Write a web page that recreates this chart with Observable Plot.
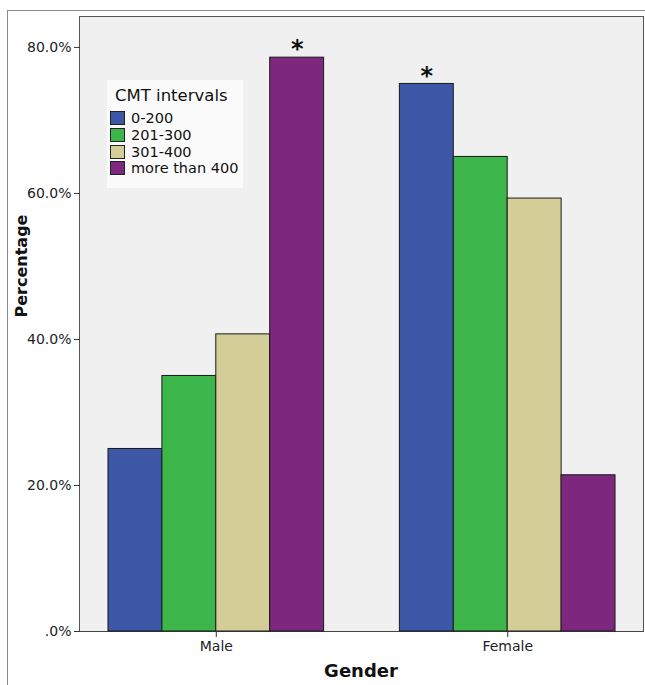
<!DOCTYPE html>
<html>
<head>
<meta charset="utf-8">
<script src="https://cdn.jsdelivr.net/npm/d3@7"></script>
<script src="https://cdn.jsdelivr.net/npm/@observablehq/plot@0.6"></script>
<style>
  html, body { margin: 0; padding: 0; background: #fff; overflow: hidden; }
  #wrap { position: relative; width: 645px; height: 685px; font-family: "DejaVu Sans", sans-serif; }
  #outer { position: absolute; left: 7px; top: 10px; width: 660px; height: 700px; border-left: 1.5px solid #8a8a8a; border-top: 1.5px solid #8a8a8a; }
  #plotbg { position: absolute; left: 79px; top: 16px; width: 565px; height: 616px; background: #f0f0f0; box-sizing: border-box; border: 1.5px solid #555; border-bottom-color: #444; }
  #chart { position: absolute; left: 0; top: 0; }
  #ylab { position: absolute; left: 21px; top: 266px; transform: translate(-50%, -50%) rotate(-90deg); font-weight: bold; font-size: 16px; color: #111; white-space: nowrap; }
  #xlab { position: absolute; left: 361px; top: 670px; transform: translate(-50%, -50%); font-weight: bold; font-size: 18px; color: #111; white-space: nowrap; }
  #legend { position: absolute; left: 107px; top: 80px; width: 136px; height: 108px; background: #fbfbfb; box-sizing: border-box; padding: 6px 0 0 3px; }
  #legend .title { font-size: 16.5px; color: #111; margin: 0 0 5px 5px; }
  #legend .item { display: flex; align-items: center; height: 16.7px; font-size: 14.5px; color: #111; }
  #legend .sw { width: 13px; height: 12px; border: 1px solid #222; margin-right: 6px; }
</style>
</head>
<body>
<div id="wrap">
  <div id="outer"></div>
  <div id="plotbg"></div>
  <div id="chart"></div>
  <div id="ylab">Percentage</div>
  <div id="xlab">Gender</div>
  <div id="legend"></div>
</div>
<script>
// ---- data ----
const genders = ["Male", "Female"];
const intervals = ["0-200", "201-300", "301-400", "more than 400"];
const maleValues = [25.0, 35.0, 40.7, 78.6];
const femaleValues = [75.0, 65.0, 59.3, 21.4];
const starred = [["Male", "more than 400"], ["Female", "0-200"]];
const colors = ["#3d57a7", "#3cb54b", "#d3ce98", "#7e277e"];
const yTicks = [0, 20, 40, 60, 80];

const rows = [];
genders.forEach((g, gi) => {
  const vals = gi === 0 ? maleValues : femaleValues;
  intervals.forEach((iv, k) => rows.push({gender: g, interval: iv, value: vals[k]}));
});
const stars = rows.filter(r => starred.some(([g, iv]) => g === r.gender && iv === r.interval));

const fmt = d => d === 0 ? ".0%" : d.toFixed(1) + "%";

// layout
const W = 645, H = 685, mL = 80, mR = 2, mT = 17, mB = 54;
const pInner = 0.26, pOuter = 0.096;
const step = (W - mL - mR) / (genders.length - pInner + 2 * pOuter);
const axisShift = -pOuter * step; // y axis drawn at the plot frame, not the first facet

const chart = Plot.plot({
  width: W,
  height: H,
  marginLeft: mL,
  marginTop: mT,
  marginRight: mR,
  marginBottom: mB,
  style: {fontFamily: "DejaVu Sans, sans-serif", background: "transparent", color: "#222"},
  fx: {domain: genders, paddingInner: pInner, paddingOuter: pOuter, round: false, label: null},
  x: {domain: intervals, padding: 0, round: false, axis: null},
  y: {domain: [0, 84.1], label: null},
  color: {domain: intervals, range: colors},
  marks: [
    Plot.barY(rows, {fx: "gender", x: "interval", y: "value", fill: "interval", stroke: "#1a1a1a", strokeWidth: 1}),
    Plot.text(stars, {fx: "gender", x: "interval", y: "value", text: () => "*", dy: -8, fontSize: 24, fontWeight: "bold", fill: "#111"}),
    Plot.axisY({ticks: yTicks, tickFormat: fmt, tickSize: 6, tickPadding: 3, fontSize: 14, label: null, stroke: "#333", dx: axisShift}),
    Plot.axisFx({anchor: "bottom", tickSize: 6, tickPadding: 4, fontSize: 14, label: null, stroke: "#333"})
  ]
});
document.getElementById("chart").appendChild(chart);

// legend
const leg = document.getElementById("legend");
const t = document.createElement("div");
t.className = "title";
t.textContent = "CMT intervals";
leg.appendChild(t);
intervals.forEach((iv, k) => {
  const it = document.createElement("div");
  it.className = "item";
  const sw = document.createElement("div");
  sw.className = "sw";
  sw.style.background = colors[k];
  it.appendChild(sw);
  const lab = document.createElement("span");
  lab.textContent = iv;
  it.appendChild(lab);
  leg.appendChild(it);
});
</script>
</body>
</html>
